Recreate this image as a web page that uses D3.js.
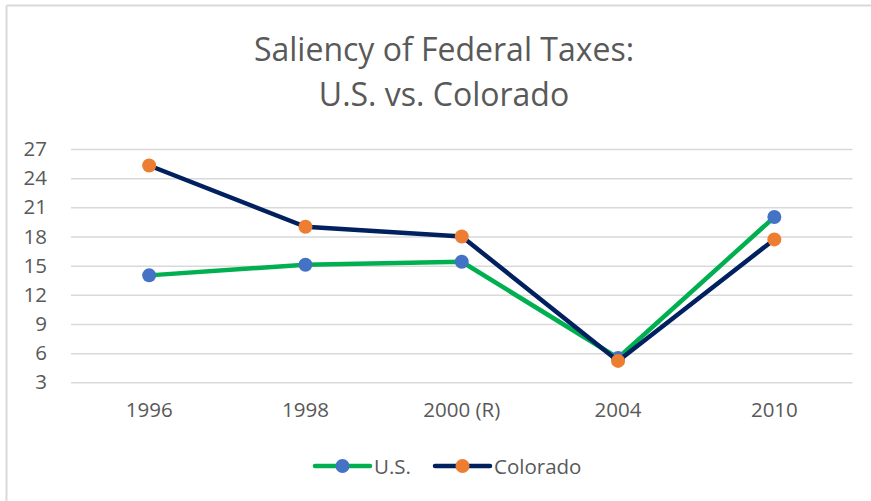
<!DOCTYPE html>
<html>
<head>
<meta charset="utf-8">
<script src="https://cdn.jsdelivr.net/npm/d3@7"></script>
<style>
  html, body { margin: 0; padding: 0; background: #fff; }
  svg { display: block; }
  text { font-family: "Open Sans", Lato, sans-serif; fill: #595959; }
</style>
</head>
<body>
<svg id="chart" width="871" height="501"></svg>
<script>
const categories = ["1996", "1998", "2000 (R)", "2004", "2010"];
const usValues = [14.0, 15.1, 15.4, 5.5, 20.0];
const coloradoValues = [25.3, 19.0, 18.0, 5.2, 17.7];
const yTicks = [3, 6, 9, 12, 15, 18, 21, 24, 27];
const titleLines = ["Saliency of Federal Taxes:", "U.S. vs. Colorado"];
const seriesNames = ["U.S.", "Colorado"];

const W = 871, H = 501;
const svg = d3.select("#chart");
const labelSize = "20.5px";

// chart area border (only top and left visible in the crop)
svg.append("line").attr("x1", 6.5).attr("x2", W).attr("y1", 5.5).attr("y2", 5.5)
  .attr("stroke", "#d9d9d9").attr("stroke-width", 2);
svg.append("line").attr("x1", 6.5).attr("x2", 6.5).attr("y1", 5.5).attr("y2", H)
  .attr("stroke", "#d9d9d9").attr("stroke-width", 2);

const plot = { left: 71, right: 852.5, top: 149, bottom: 382.3 };

const x = d3.scaleBand().domain(categories).range([plot.left, plot.right]);
const y = d3.scaleLinear().domain([3, 27]).range([plot.bottom, plot.top]);

// title
svg.append("g").selectAll("text").data(titleLines).join("text")
  .attr("x", 444).attr("y", (d, i) => 61 + i * 45)
  .attr("text-anchor", "middle")
  .style("font-size", "32px")
  .text(d => d);

// gridlines + y axis
const yAxis = d3.axisLeft(y).tickValues(yTicks).tickSize(-(plot.right - plot.left)).tickPadding(24);
const gy = svg.append("g").attr("transform", `translate(${plot.left},0)`).call(yAxis);
gy.select(".domain").remove();
gy.selectAll(".tick line").attr("stroke", "#d9d9d9").attr("stroke-width", 1.5);
gy.selectAll(".tick text").style("font-size", labelSize).attr("fill", "#595959")
  .style("font-family", "'Open Sans', Lato, sans-serif");

// x axis labels
const xAxis = d3.axisBottom(x).tickSize(0).tickPadding(20);
const gx = svg.append("g").attr("transform", `translate(0,${plot.bottom})`).call(xAxis);
gx.select(".domain").remove();
gx.selectAll(".tick text").style("font-size", labelSize).attr("fill", "#595959")
  .style("font-family", "'Open Sans', Lato, sans-serif");

const cx = d => x(d) + x.bandwidth() / 2;
const line = d3.line().x(d => cx(d.c)).y(d => y(d.v));

const series = [
  { name: seriesNames[0], values: usValues, stroke: "#00B050", marker: "#4472C4" },
  { name: seriesNames[1], values: coloradoValues, stroke: "#002060", marker: "#ED7D31" }
];

series.forEach(s => {
  const pts = categories.map((c, i) => ({ c, v: s.values[i] }));
  svg.append("path").datum(pts)
    .attr("d", line).attr("fill", "none")
    .attr("stroke", s.stroke).attr("stroke-width", 4.5)
    .attr("stroke-linejoin", "round").attr("stroke-linecap", "round");
  svg.append("g").selectAll("circle").data(pts).join("circle")
    .attr("cx", d => cx(d.c)).attr("cy", d => y(d.v)).attr("r", 7)
    .attr("fill", s.marker);
});

// legend
const legendY = 466;
const legendItems = [
  { s: series[0], x0: 315 },
  { s: series[1], x0: 435 }
];
legendItems.forEach(({ s, x0 }) => {
  svg.append("line").attr("x1", x0).attr("x2", x0 + 55).attr("y1", legendY).attr("y2", legendY)
    .attr("stroke", s.stroke).attr("stroke-width", 4.5).attr("stroke-linecap", "round");
  svg.append("circle").attr("cx", x0 + 27.5).attr("cy", legendY).attr("r", 7).attr("fill", s.marker);
  svg.append("text").attr("x", x0 + 59).attr("y", legendY + 7.5)
    .style("font-size", labelSize).text(s.name);
});
</script>
</body>
</html>
